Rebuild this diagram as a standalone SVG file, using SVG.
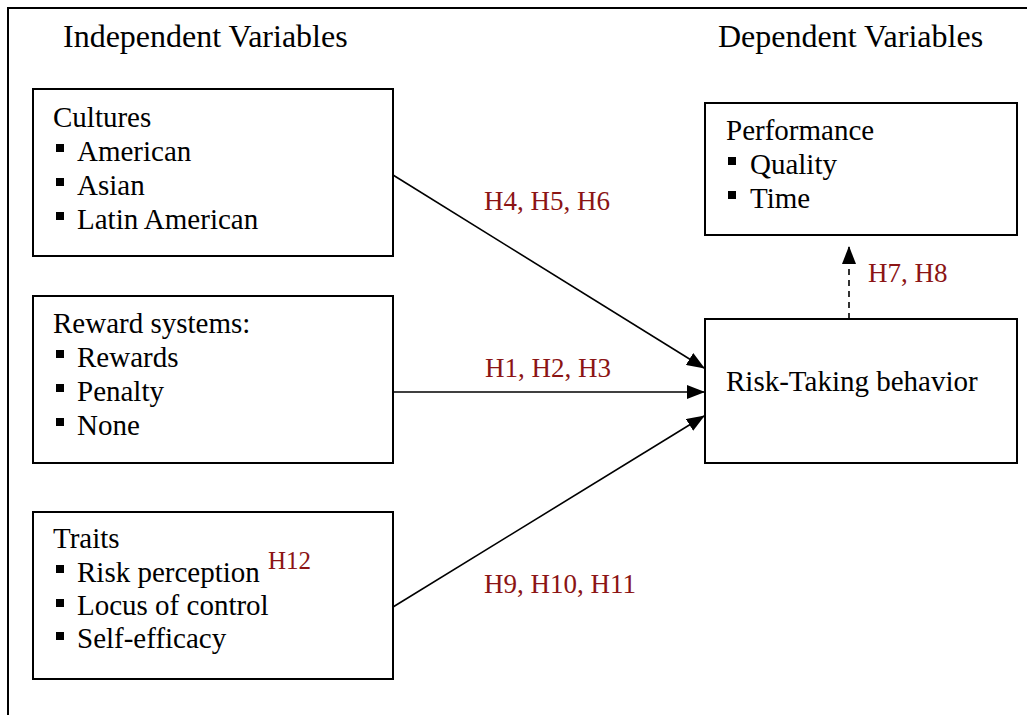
<svg xmlns="http://www.w3.org/2000/svg" width="1027" height="715" viewBox="0 0 1027 715">
  <style>
    .box { fill: #ffffff; stroke: #000000; stroke-width: 2; }
    .txt { font-family: "Liberation Serif", "Times New Roman", serif; font-size: 29px; fill: #000000; }
    .head { font-family: "Liberation Serif", "Times New Roman", serif; font-size: 32px; fill: #000000; }
    .hyp { font-family: "Liberation Serif", "Times New Roman", serif; font-size: 27px; fill: #8B1414; }
    .bullet { fill: #000000; }
    .conn { stroke: #000000; stroke-width: 1.6; fill: none; }
    .dash { stroke-dasharray: 6 5; }
  </style>
  <defs>
    <marker id="arrow" markerUnits="userSpaceOnUse" markerWidth="18" markerHeight="14" viewBox="0 0 18 14" refX="17" refY="7" orient="auto">
      <path d="M0,0 L18,7 L0,14 Z" fill="#000000"/>
    </marker>
  </defs>

  <rect width="1027" height="715" fill="#ffffff"/>

  <!-- outer frame -->
  <path d="M8,715 L8,8 L1027,8" fill="none" stroke="#000000" stroke-width="2"/>

  <!-- column headings -->
  <text class="head" x="63" y="47">Independent Variables</text>
  <text class="head" x="718" y="47">Dependent Variables</text>

  <g id="cultures">
    <rect class="box" x="33" y="89" width="360" height="167"/>
    <text class="txt" x="53" y="127">Cultures</text>
    <rect class="bullet" x="56" y="144" width="8" height="8"/>
    <text class="txt" x="77" y="161">American</text>
    <rect class="bullet" x="56" y="178" width="8" height="8"/>
    <text class="txt" x="77" y="195">Asian</text>
    <rect class="bullet" x="56" y="212" width="8" height="8"/>
    <text class="txt" x="77" y="229">Latin American</text>
  </g>

  <g id="reward">
    <rect class="box" x="33" y="296" width="360" height="167"/>
    <text class="txt" x="53" y="333">Reward systems:</text>
    <rect class="bullet" x="56" y="350" width="8" height="8"/>
    <text class="txt" x="77" y="367">Rewards</text>
    <rect class="bullet" x="56" y="384" width="8" height="8"/>
    <text class="txt" x="77" y="401">Penalty</text>
    <rect class="bullet" x="56" y="418" width="8" height="8"/>
    <text class="txt" x="77" y="435">None</text>
  </g>

  <g id="traits">
    <rect class="box" x="33" y="512" width="360" height="167"/>
    <text class="txt" x="53" y="548">Traits</text>
    <rect class="bullet" x="56" y="565" width="8" height="8"/>
    <text class="txt" x="77" y="582">Risk perception</text>
    <rect class="bullet" x="56" y="599" width="8" height="8"/>
    <text class="txt" x="77" y="615">Locus of control</text>
    <rect class="bullet" x="56" y="632" width="8" height="8"/>
    <text class="txt" x="77" y="648">Self-efficacy</text>
    <text class="hyp" x="268" y="569" style="font-size:25px">H12</text>
  </g>

  <g id="performance">
    <rect class="box" x="705" y="103" width="312" height="132"/>
    <text class="txt" x="726" y="140">Performance</text>
    <rect class="bullet" x="728" y="157" width="8" height="8"/>
    <text class="txt" x="750" y="174">Quality</text>
    <rect class="bullet" x="728" y="191" width="8" height="8"/>
    <text class="txt" x="750" y="208">Time</text>
  </g>

  <g id="risk-taking">
    <rect class="box" x="705" y="319" width="312" height="144"/>
    <text class="txt" x="726" y="391">Risk-Taking behavior</text>
  </g>

  <g id="connectors">
    <line class="conn" x1="393" y1="175" x2="704" y2="368" marker-end="url(#arrow)"/>
    <line class="conn" x1="393" y1="392" x2="704" y2="392" marker-end="url(#arrow)"/>
    <line class="conn" x1="393" y1="607" x2="704" y2="416" marker-end="url(#arrow)"/>
    <line class="conn dash" x1="849" y1="319" x2="849" y2="247" marker-end="url(#arrow)"/>
    <text class="hyp" x="484" y="210">H4, H5, H6</text>
    <text class="hyp" x="485" y="377">H1, H2, H3</text>
    <text class="hyp" x="484" y="593">H9, H10, H11</text>
    <text class="hyp" x="868" y="282">H7, H8</text>
  </g>
</svg>
